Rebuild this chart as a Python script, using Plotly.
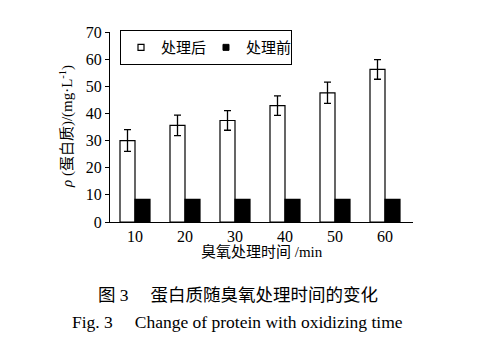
import plotly.graph_objects as go

times = ["10", "20", "30", "40", "50", "60"]
after_vals = [30.0, 35.6, 37.4, 42.9, 47.6, 56.2]
after_err = [4.0, 3.8, 3.6, 3.6, 3.9, 3.6]
before_vals = [8.3, 8.3, 8.3, 8.3, 8.3, 8.3]
y_ticks = [0, 10, 20, 30, 40, 50, 60, 70]
legend_names = ["处理后", "处理前"]

FONT = "Liberation Serif, Times New Roman, Noto Sans CJK SC, serif"

fig = go.Figure()
fig.add_trace(go.Bar(
    x=times, y=after_vals, name=legend_names[0], showlegend=False,
    marker=dict(color="white", line=dict(color="black", width=1.2)),
    error_y=dict(type="data", array=after_err, color="black", thickness=1.3, width=3.5),
))
fig.add_trace(go.Bar(
    x=times, y=before_vals, name=legend_names[1], showlegend=False,
    marker=dict(color="black", line=dict(color="black", width=1.2)),
))
# legend-only entries with small square symbols
fig.add_trace(go.Scatter(x=[None], y=[None], mode="markers", name=legend_names[0],
                         marker=dict(symbol="square", size=6, color="white",
                                     line=dict(color="black", width=1.2))))
fig.add_trace(go.Scatter(x=[None], y=[None], mode="markers", name=legend_names[1],
                         marker=dict(symbol="square", size=6, color="black",
                                     line=dict(color="black", width=1))))

fig.update_layout(
    width=481, height=347,
    margin=dict(l=102, r=76, t=24, b=133, autoexpand=False),
    paper_bgcolor="white", plot_bgcolor="white",
    barmode="group", bargap=0.4, bargroupgap=0,
    font=dict(family=FONT, size=15, color="black"),
    showlegend=True,
    legend=dict(
        orientation="h", x=0.033, y=1.01, xanchor="left", yanchor="top",
        bordercolor="black", borderwidth=1, bgcolor="white",
        font=dict(family=FONT, size=15), itemwidth=30,
        tracegroupgap=0, entrywidth=40,
    ),
    xaxis=dict(
        type="category", range=[-0.5, 5.56], showline=True, linecolor="black",
        linewidth=1.2, ticks="", showgrid=False, zeroline=False, automargin=False,
        tickfont=dict(family=FONT, size=16),
    ),
    yaxis=dict(
        range=[0, 70], tickvals=y_ticks, showline=True, linecolor="black",
        linewidth=1.2, ticks="outside", ticklen=4, tickcolor="black", automargin=False,
        showgrid=False, zeroline=False, tickfont=dict(family=FONT, size=16),
    ),
    annotations=[
        dict(text="臭氧处理时间 /min", x=0.5, y=-0.16, xref="paper", yref="paper",
             showarrow=False, font=dict(family=FONT, size=15), xanchor="center", yanchor="middle"),
        dict(text="<i>ρ</i> (蛋白质)/(mg·L<sup>-1</sup>)", x=-0.145, y=0.5, xref="paper", yref="paper",
             showarrow=False, textangle=-90, font=dict(family=FONT, size=15),
             xanchor="center", yanchor="middle"),
        dict(text="图 3　 蛋白质随臭氧处理时间的变化", x=0.422, y=-0.384, xref="paper", yref="paper",
             showarrow=False, font=dict(family=FONT, size=17.5), xanchor="center", yanchor="middle"),
        dict(text="Fig. 3　 Change of protein with oxidizing time", x=0.422, y=-0.526,
             xref="paper", yref="paper", showarrow=False, font=dict(family=FONT, size=17.5),
             xanchor="center", yanchor="middle"),
    ],
)

fig.write_html("out.html")
